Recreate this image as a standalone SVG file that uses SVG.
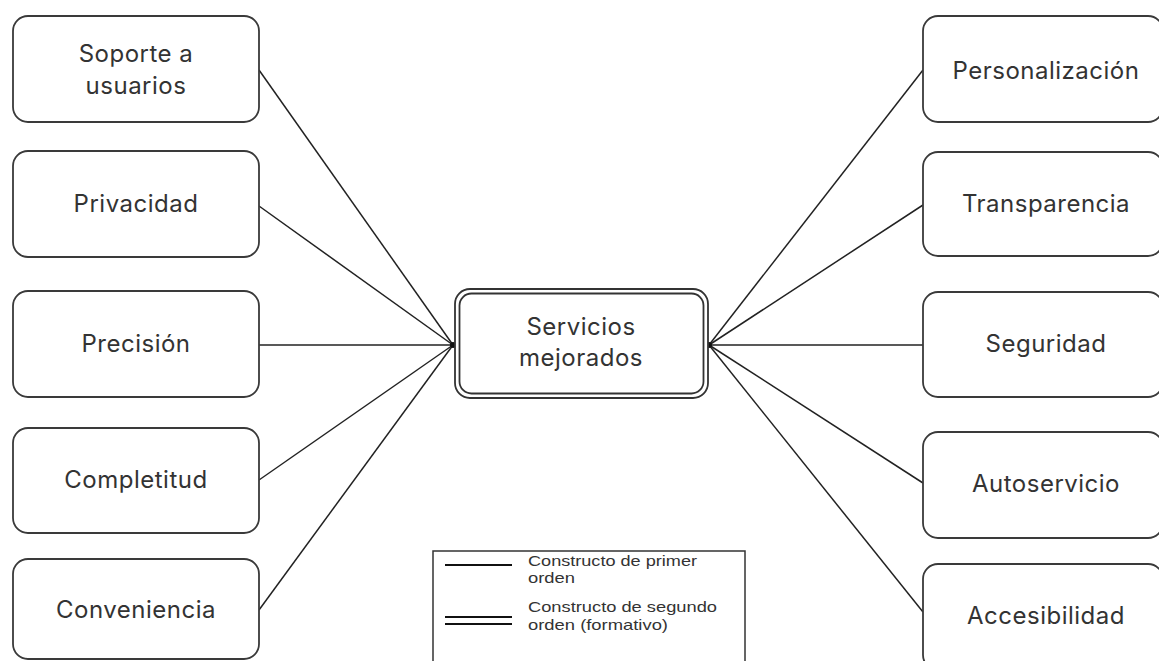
<svg xmlns="http://www.w3.org/2000/svg" width="1159" height="661" viewBox="0 0 1159 661">
<style>
.box{fill:#fff;stroke:#3a3a3a;stroke-width:1.8}
.lbl{font-family:Inter,"Liberation Sans",sans-serif;font-size:24px;letter-spacing:0.5px;fill:#333;text-anchor:middle}
.con{stroke:#222;stroke-width:1.5;fill:none}
.leg{font-family:"Liberation Sans",Arial,sans-serif;font-size:15px;fill:#333}
</style>
<rect width="1159" height="661" fill="#fff"/>
<g id="connectors">
<line class="con" x1="259" y1="70" x2="453" y2="345"/>
<line class="con" x1="259" y1="206" x2="453" y2="345"/>
<line class="con" x1="259" y1="345" x2="453" y2="345"/>
<line class="con" x1="259" y1="480" x2="453" y2="345"/>
<line class="con" x1="259" y1="610" x2="453" y2="345"/>
<line class="con" x1="709" y1="345" x2="923" y2="70"/>
<line class="con" x1="709" y1="345" x2="923" y2="205"/>
<line class="con" x1="709" y1="345" x2="923" y2="345"/>
<line class="con" x1="709" y1="345" x2="923" y2="483"/>
<line class="con" x1="709" y1="345" x2="923" y2="612"/>
<circle cx="453" cy="345" r="3" fill="#111"/>
<circle cx="709" cy="345" r="3" fill="#111"/>
</g>
<g id="n-soporte"><rect class="box" x="13" y="16" width="246" height="106" rx="15"/><text class="lbl" x="136" y="62">Soporte a</text><text class="lbl" x="136" y="94">usuarios</text></g>
<g id="n-privacidad"><rect class="box" x="13" y="151" width="246" height="106" rx="15"/><text class="lbl" x="136" y="212">Privacidad</text></g>
<g id="n-precision"><rect class="box" x="13" y="291" width="246" height="106" rx="15"/><text class="lbl" x="136" y="352">Precisión</text></g>
<g id="n-completitud"><rect class="box" x="13" y="428" width="246" height="105" rx="15"/><text class="lbl" x="136" y="488">Completitud</text></g>
<g id="n-conveniencia"><rect class="box" x="13" y="559" width="246" height="100" rx="15"/><text class="lbl" x="136" y="618">Conveniencia</text></g>
<g id="n-personalizacion"><rect class="box" x="923" y="16" width="240" height="106" rx="15"/><text class="lbl" x="1046" y="79">Personalización</text></g>
<g id="n-transparencia"><rect class="box" x="923" y="152" width="240" height="104" rx="15"/><text class="lbl" x="1046" y="212">Transparencia</text></g>
<g id="n-seguridad"><rect class="box" x="923" y="292" width="240" height="105" rx="15"/><text class="lbl" x="1046" y="352">Seguridad</text></g>
<g id="n-autoservicio"><rect class="box" x="923" y="432" width="240" height="106" rx="15"/><text class="lbl" x="1046" y="492">Autoservicio</text></g>
<g id="n-accesibilidad"><rect class="box" x="923" y="564" width="240" height="106" rx="15"/><text class="lbl" x="1046" y="624">Accesibilidad</text></g>
<g id="n-servicios">
<rect x="455" y="289" width="253" height="109" rx="15" fill="#fff" stroke="#333" stroke-width="1.8"/>
<rect x="459.5" y="293.5" width="244" height="100" rx="12" fill="none" stroke="#333" stroke-width="1.8"/>
<text class="lbl" x="581" y="335">Servicios</text><text class="lbl" x="581" y="366">mejorados</text>
</g>
<g id="legend">
<rect x="433" y="551" width="312" height="115" fill="#fff" stroke="#333" stroke-width="1.5"/>
<line x1="445" y1="565" x2="512" y2="565" stroke="#111" stroke-width="2"/>
<line x1="445" y1="617" x2="512" y2="617" stroke="#111" stroke-width="2"/>
<line x1="445" y1="624" x2="512" y2="624" stroke="#111" stroke-width="2"/>
<text class="leg" x="528" y="566" textLength="169" lengthAdjust="spacingAndGlyphs">Constructo de primer</text>
<text class="leg" x="528" y="583" textLength="47" lengthAdjust="spacingAndGlyphs">orden</text>
<text class="leg" x="528" y="612" textLength="189" lengthAdjust="spacingAndGlyphs">Constructo de segundo</text>
<text class="leg" x="528" y="630" textLength="140" lengthAdjust="spacingAndGlyphs">orden (formativo)</text>
</g>
</svg>
